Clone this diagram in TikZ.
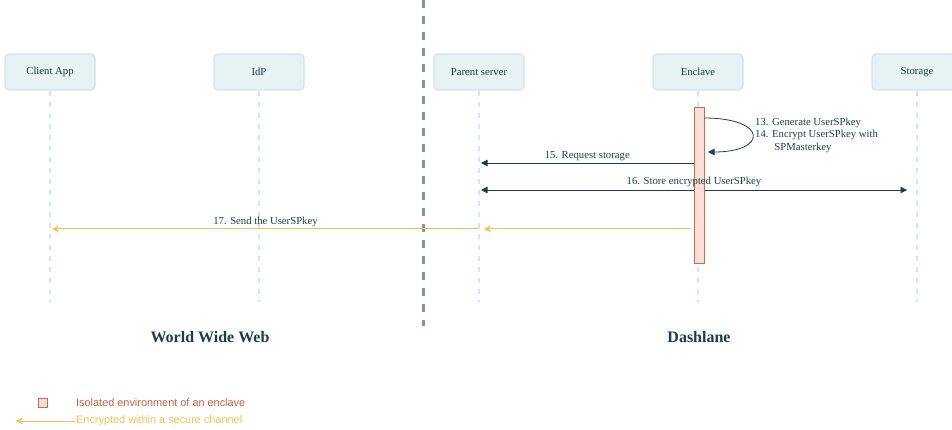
\documentclass[tikz,border=0pt]{standalone}
\usepackage{fontspec}
\setmainfont{Liberation Serif}
\setsansfont{Liberation Sans}
\usetikzlibrary{arrows.meta}
\definecolor{ink}{HTML}{1B3F47}
\definecolor{boxfill}{HTML}{E7F2F4}
\definecolor{boxline}{HTML}{CFE5EA}
\definecolor{life}{HTML}{D3E7EB}
\definecolor{divider}{HTML}{7E989C}
\definecolor{encfill}{HTML}{FADFD5}
\definecolor{encline}{HTML}{D06A4A}
\definecolor{secure}{HTML}{F5C24C}
\definecolor{legtext}{HTML}{C8603E}
\tikzset{
	actor/.style={draw=boxline,fill=boxfill,rounded corners=4pt,line width=1.2pt,
		minimum width=90pt,minimum height=36pt,text=ink,font=\fontsize{10.7}{12}\selectfont},
	lifeline/.style={draw=life,line width=1.5pt,dash pattern=on 5pt off 6pt},
	activation/.style={draw=encline,fill=encfill,line width=1pt,minimum width=10pt,inner sep=0pt},
	msg/.style={draw=ink,line width=.8pt,-{Triangle[length=6.5pt,width=6.5pt]}},
	secmsg/.style={draw=secure,line width=1pt,-{Stealth[length=7pt,width=7pt,inset=2.5pt]}},
	lbl/.style={text=ink,inner sep=1pt,font=\fontsize{10.7}{11}\selectfont},
	heading/.style={text=ink,font=\fontsize{16}{18}\selectfont\bfseries},
	legend/.style={font=\sffamily\fontsize{10.9}{12}\selectfont,anchor=west,inner sep=0pt}
}
\begin{document}
\begin{tikzpicture}[x=1pt,y=-1pt]
	\useasboundingbox (0,0) rectangle (952,430);
	\def\ytop{72} % hang cua cac hop
	\def\yend{302} % cuoi duong doc
	% cac thanh phan
	\foreach \nom/\x/\ten in {client/50/Client App,idp/259/IdP,parent/479/Parent server,enclave/698/Enclave,storage/917/Storage}{
		\node[actor] (\nom) at (\x,\ytop) {\ten};
		\coordinate (\nom-end) at (\x,\yend);
		\draw[lifeline] (\nom.south) -- (\nom-end);
	}
	% vach chia
	\coordinate (divtop) at (423,0);
	\coordinate (divbot) at (423,326);
	\draw[divider,line width=3pt,dash pattern=on 8pt off 8pt] (divtop) -- (divbot);
	% tin nhan
	\coordinate (m16-a) at (481,190);
	\coordinate (m16-b) at (907,190);
	\draw[msg,{Triangle[length=6.5pt,width=6.5pt]}-{Triangle[length=6.5pt,width=6.5pt]}] (m16-a) -- (m16-b);
	% enclave
	\node[activation,minimum height=155pt] (act) at (699,185.5) {};
	\node[lbl] (m16) at (694,182) {16. Store encrypted UserSPkey};
	\coordinate (self-a) at (704,118);
	\coordinate (self-b) at (708,152);
	\draw[msg] (self-a) .. controls (768,118) and (768,152) .. (self-b);
	\node[lbl,anchor=west] (m13) at (754,123) {13. Generate UserSPkey};
	\node[lbl,anchor=west] (m14) at (754,135) {14. Encrypt UserSPkey with};
	\node[lbl] (m14b) at (803,148) {SPMasterkey};
	\coordinate (m15-a) at (act.west |- 0,163);
	\coordinate (m15-b) at (481,163);
	\draw[msg] (m15-a) -- node[lbl,above=1pt] {15. Request storage} (m15-b);
	\coordinate (m17-a) at (691,229);
	\coordinate (m17-b) at (484,229);
	\coordinate (m17-c) at (479,229);
	\coordinate (m17-d) at (52,229);
	\draw[secmsg] (m17-a) -- (m17-b);
	\draw[secmsg] (m17-c) -- node[lbl,above=1pt] {17. Send the UserSPkey} (m17-d);
	% vung
	\node[heading] (www) at (210,337) {World Wide Web};
	\node[heading] (dash) at (699,337) {Dashlane};
	% chu thich
	\node[activation,minimum width=9pt,minimum height=9pt] (legbox) at (43,403) {};
	\node[legend,text=legtext] (legenc) at (76,403) {Isolated environment of an enclave};
	\coordinate (legarr) at (75,421);
	\coordinate (legtip) at (16,421);
	\draw[secmsg] (legarr) -- (legtip);
	\node[legend,text=secure] (legsec) at (76,421) {Encrypted within a secure channel};
\end{tikzpicture}
\end{document}
